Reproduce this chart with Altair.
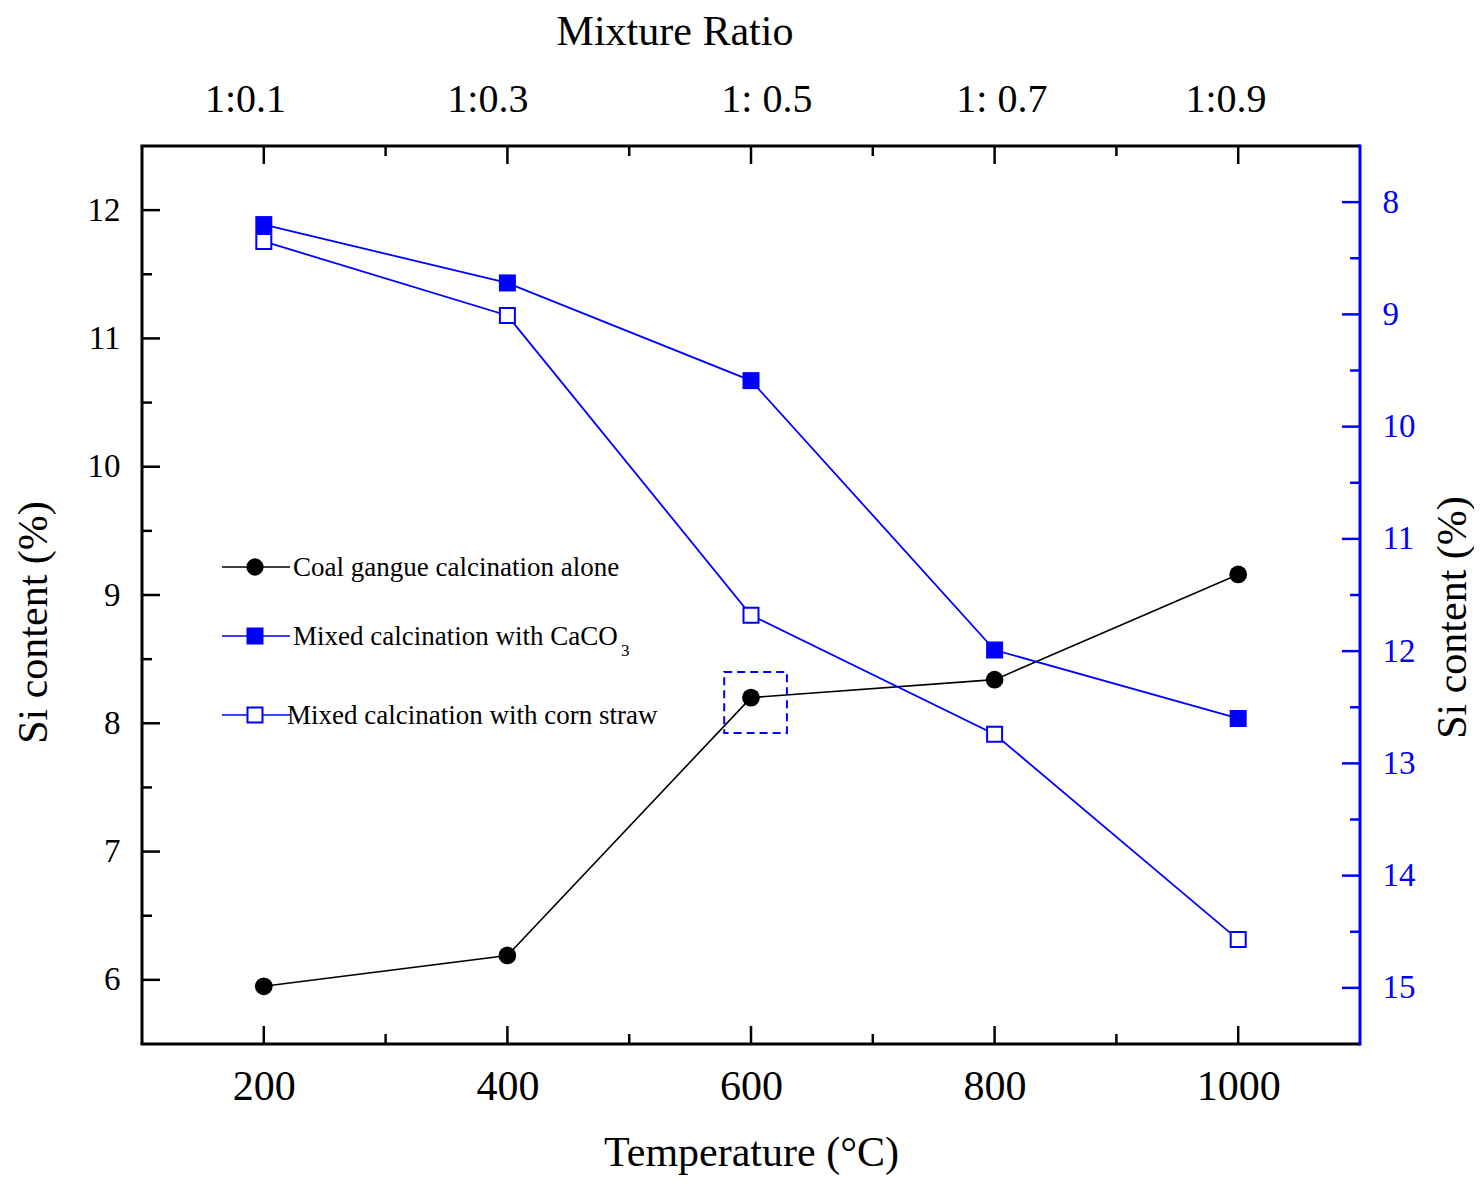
import altair as alt
import pandas as pd

# ---- data ----
temps = [200, 400, 600, 800, 1000]
coal = [5.95, 6.19, 8.20, 8.34, 9.16]          # left axis
caco3 = [8.20, 8.72, 9.59, 11.99, 12.60]       # right axis (reversed)
corn = [8.35, 9.01, 11.68, 12.74, 14.57]       # right axis (reversed)

ratio_labels = ["1:0.1", "1:0.3", "1: 0.5", "1: 0.7", "1:0.9"]
ratio_pos = [185, 384, 613, 806, 990]

x_major = [200, 400, 600, 800, 1000]
x_minor = [300, 500, 700, 900]
left_major = [6, 7, 8, 9, 10, 11, 12]
left_minor = [6.5, 7.5, 8.5, 9.5, 10.5, 11.5]
right_major = [8, 9, 10, 11, 12, 13, 14, 15]
right_minor = [8.5, 9.5, 10.5, 11.5, 12.5, 13.5, 14.5]

hl_x = [578, 629.5]
hl_y = [8.40, 7.925]

legend_labels = ["Coal gangue calcination alone",
                 "Mixed calcination with CaCO",
                 "Mixed calcination with corn straw"]

# ---- style ----
W, H = 1218, 898
FONT = "Liberation Serif"
BLUE = "#0000ff"

xs = alt.Scale(domain=[100, 1100], nice=False, zero=False)
ysl = alt.Scale(domain=[5.5, 12.5], nice=False, zero=False)
ysr = alt.Scale(domain=[7.5, 15.5], reverse=True, nice=False, zero=False)

one = pd.DataFrame({"a": [0]})

x_axis = alt.Axis(values=x_major, format="d", title="Temperature (°C)", orient="bottom",
                  domain=False, ticks=False, grid=False,
                  labelFont=FONT, labelFontSize=42, labelPadding=22, labelColor="black",
                  titleFont=FONT, titleFontSize=42, titleFontWeight="normal",
                  titleColor="black", titleY=121, titleBaseline="alphabetic")

yl_axis = alt.Axis(values=left_major, format="d", title="Si content (%)", orient="left",
                   domain=False, ticks=False, grid=False,
                   labelFont=FONT, labelFontSize=33, labelPadding=22, labelColor="black",
                   titleFont=FONT, titleFontSize=42, titleFontWeight="normal",
                   titleColor="black", titleAngle=270, titleX=-96, titleY=476,
                   titleAlign="center", titleBaseline="alphabetic")

yr_axis = alt.Axis(values=right_major, format="d", title="Si content (%)", orient="right",
                   domain=False, ticks=False, grid=False,
                   labelFont=FONT, labelFontSize=33, labelPadding=22, labelColor=BLUE,
                   titleFont=FONT, titleFontSize=42, titleFontWeight="normal",
                   titleColor="black", titleAngle=270, titleX=105, titleY=471,
                   titleAlign="center", titleBaseline="alphabetic")

layers = []

# coal series (left axis)
df_coal = pd.DataFrame({"T": temps, "v": coal})
layers.append(alt.Chart(df_coal).mark_line(color="black", strokeWidth=1.6).encode(
    x=alt.X("T:Q", scale=xs, axis=x_axis),
    y=alt.Y("v:Q", scale=ysl, axis=yl_axis)))

# blue series (right axis)
df_caco3 = pd.DataFrame({"T": temps, "v": caco3})
df_corn = pd.DataFrame({"T": temps, "v": corn})
layers.append(alt.Chart(df_caco3).mark_line(color=BLUE, strokeWidth=1.8).encode(
    x=alt.X("T:Q", scale=xs, axis=None),
    y=alt.Y("v:Q", scale=ysr, axis=yr_axis)))
layers.append(alt.Chart(df_corn).mark_line(color=BLUE, strokeWidth=1.8).encode(
    x=alt.X("T:Q", scale=xs, axis=None),
    y=alt.Y("v:Q", scale=ysr, axis=None)))

# highlight box
df_hl = pd.DataFrame({"x1": [hl_x[0]], "x2": [hl_x[1]], "y1": [hl_y[0]], "y2": [hl_y[1]]})
layers.append(alt.Chart(df_hl).mark_rect(fillOpacity=0, stroke=BLUE, strokeWidth=2,
                                         strokeDash=[8, 5]).encode(
    x=alt.X("x1:Q", scale=xs, axis=None), x2="x2:Q",
    y=alt.Y("y1:Q", scale=ysl, axis=None), y2="y2:Q"))


def xticks(vals, y0, y1):
    return alt.Chart(pd.DataFrame({"v": vals})).mark_rule(color="black", strokeWidth=2.5).encode(
        x=alt.X("v:Q", scale=xs, axis=None), y=alt.value(y0), y2=alt.value(y1))


def yticks(vals, scale, x0, x1, color):
    return alt.Chart(pd.DataFrame({"v": vals})).mark_rule(color=color, strokeWidth=2.5).encode(
        y=alt.Y("v:Q", scale=scale, axis=None), x=alt.value(x0), x2=alt.value(x1))


layers += [
    xticks(x_major, H, H - 18), xticks(x_minor, H, H - 10),
    xticks(x_major, 0, 18), xticks(x_minor, 0, 10),
    yticks(left_major, ysl, 0, 18, "black"), yticks(left_minor, ysl, 0, 10, "black"),
    yticks(right_major, ysr, W, W - 18, BLUE), yticks(right_minor, ysr, W, W - 10, BLUE),
]

# frame
layers.append(alt.Chart(one).mark_rule(color="black", strokeWidth=3).encode(
    x=alt.value(-1.5), x2=alt.value(W), y=alt.value(0)))
layers.append(alt.Chart(one).mark_rule(color="black", strokeWidth=3).encode(
    x=alt.value(-1.5), x2=alt.value(W), y=alt.value(H)))
layers.append(alt.Chart(one).mark_rule(color="black", strokeWidth=3).encode(
    x=alt.value(0), y=alt.value(0), y2=alt.value(H)))
layers.append(alt.Chart(one).mark_rule(color=BLUE, strokeWidth=3).encode(
    x=alt.value(W), y=alt.value(-1.5), y2=alt.value(H + 1.5)))

# markers
layers.append(alt.Chart(df_coal).mark_point(shape="circle", filled=True, size=314,
                                            color="black", opacity=1).encode(
    x=alt.X("T:Q", scale=xs, axis=None), y=alt.Y("v:Q", scale=ysl, axis=None)))
layers.append(alt.Chart(df_caco3).mark_point(shape="square", filled=True, size=289,
                                             color=BLUE, opacity=1).encode(
    x=alt.X("T:Q", scale=xs, axis=None), y=alt.Y("v:Q", scale=ysr, axis=None)))
layers.append(alt.Chart(df_corn).mark_point(shape="square", filled=True, size=225, fill="white",
                                            stroke=BLUE, strokeWidth=2, opacity=1).encode(
    x=alt.X("T:Q", scale=xs, axis=None), y=alt.Y("v:Q", scale=ysr, axis=None)))

# top "axis": mixture ratio labels and title
df_top = pd.DataFrame({"pos": ratio_pos, "label": ratio_labels})
layers.append(alt.Chart(df_top).mark_text(font=FONT, fontSize=40, baseline="alphabetic",
                                          align="center", color="black").encode(
    x=alt.X("pos:Q", scale=xs, axis=None), y=alt.value(-34), text="label:N"))
layers.append(alt.Chart(one).mark_text(text="Mixture Ratio", font=FONT, fontSize=42,
                                       baseline="alphabetic", align="center",
                                       color="black").encode(x=alt.value(533), y=alt.value(-101)))


# legend
def legend_row(py, label, text_x, color, marker):
    line = alt.Chart(one).mark_rule(color=color, strokeWidth=1.6).encode(
        x=alt.value(80), x2=alt.value(148), y=alt.value(py))
    pt = alt.Chart(one).mark_point(**marker).encode(x=alt.value(113), y=alt.value(py))
    txt = alt.Chart(one).mark_text(text=label, font=FONT, fontSize=27, align="left",
                                   baseline="alphabetic", color="black").encode(
        x=alt.value(text_x), y=alt.value(py + 9))
    return [line, pt, txt]


layers += legend_row(421, legend_labels[0], 151, "black",
                     dict(shape="circle", filled=True, size=300, color="black", opacity=1))
layers += legend_row(490, legend_labels[1], 151, BLUE,
                     dict(shape="square", filled=True, size=289, color=BLUE, opacity=1))
layers += legend_row(569, legend_labels[2], 145, BLUE,
                     dict(shape="square", filled=True, size=225, fill="white", stroke=BLUE,
                          strokeWidth=2, opacity=1))
layers.append(alt.Chart(one).mark_text(text="3", font=FONT, fontSize=17, align="left",
                                       baseline="alphabetic", color="black").encode(
    x=alt.value(479), y=alt.value(510)))

chart = alt.layer(*layers).resolve_scale(y="independent").resolve_axis(
    x="independent", y="independent").properties(
    width=W, height=H,
    autosize=alt.AutoSizeParams(type="none"),
    padding={"left": 134, "top": 138, "right": 114, "bottom": 131},
).configure_view(stroke=None)

chart.save("out.html", embed_options={"renderer": "svg", "actions": False})
